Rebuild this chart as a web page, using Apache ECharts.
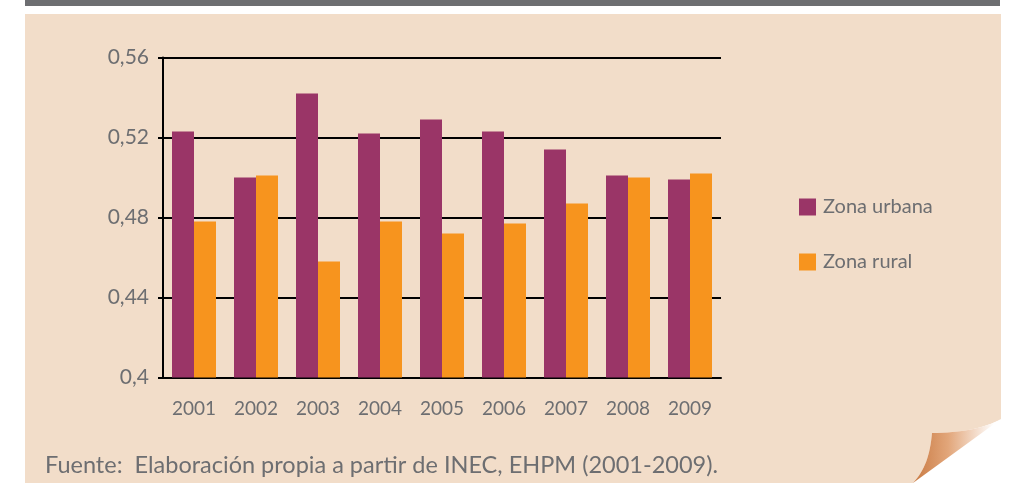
<!DOCTYPE html>
<html>
<head>
<meta charset="utf-8">
<script src="https://cdn.jsdelivr.net/npm/echarts@6/dist/echarts.min.js"></script>
<style>
  html, body { margin: 0; padding: 0; background: #ffffff; }
  #chart { width: 1013px; height: 483px; }
</style>
</head>
<body>
<div id="chart"></div>
<script>
  // datos
  var years = ['2001', '2002', '2003', '2004', '2005', '2006', '2007', '2008', '2009'];
  var urbana = [0.523, 0.500, 0.542, 0.522, 0.529, 0.523, 0.514, 0.501, 0.499];
  var rural = [0.478, 0.501, 0.458, 0.478, 0.472, 0.477, 0.487, 0.500, 0.502];
  var seriesNames = ['Zona urbana', 'Zona rural'];
  var fuente = 'Fuente:  Elaboración propia a partir de INEC, EHPM (2001-2009).';

  var gris = '#6d6e71';
  var fuenteTxt = 'Lato, "Open Sans", sans-serif';

  // puntos de una curva bezier cúbica (para la esquina doblada)
  function bez(p0, p1, p2, p3) {
    var pts = [];
    for (var i = 0; i <= 16; i++) {
      var t = i / 16, u = 1 - t;
      pts.push([
        u * u * u * p0[0] + 3 * u * u * t * p1[0] + 3 * u * t * t * p2[0] + t * t * t * p3[0],
        u * u * u * p0[1] + 3 * u * u * t * p1[1] + 3 * u * t * t * p2[1] + t * t * t * p3[1]
      ]);
    }
    return pts;
  }
  var bordeSup = bez([932, 433], [960, 433], [985, 428], [1001, 419]);
  var bordeIzq = bez([913, 483], [925, 470], [930, 455], [932, 433]);

  var recorte = bordeSup.slice().reverse().concat(bordeIzq.slice().reverse()).concat([[1013, 483], [1013, 419]]);
  var doblez = bordeSup.concat([[913, 483]]).concat(bordeIzq.slice(1));

  var myChart = echarts.init(document.getElementById('chart'));

  var option = {
    animation: false,
    textStyle: { fontFamily: fuenteTxt },
    graphic: [
      // banda gris superior
      { type: 'rect', z: -10, shape: { x: 25, y: 0, width: 975, height: 6 }, style: { fill: '#6d6e71' } },
      // fondo beige
      { type: 'rect', z: -10, shape: { x: 25, y: 14, width: 976, height: 469 }, style: { fill: '#f2ddc9' } },
      // esquina doblada
      { type: 'polygon', z: -9, shape: { points: recorte }, style: { fill: '#ffffff' } },
      { type: 'polygon', z: -8, shape: { points: doblez },
        style: { fill: new echarts.graphic.LinearGradient(0, 0, 1, 0, [
          { offset: 0, color: '#c97a43' },
          { offset: 0.4, color: '#e2a67a' },
          { offset: 0.92, color: '#ffffff' }
        ]) } },
      {
        type: 'text', z: 10, left: 45, top: 453,
        style: { text: fuente, fill: gris, fontSize: 23.5, fontFamily: fuenteTxt }
      }
    ],
    legend: {
      orient: 'vertical',
      left: 799,
      top: 197,
      padding: 0,
      icon: 'rect',
      itemWidth: 17,
      itemHeight: 17,
      itemGap: 35,
      itemStyle: { borderWidth: 0 },
      textStyle: { color: gris, fontSize: 20, fontFamily: fuenteTxt, padding: [0, 0, 0, 2] },
      data: seriesNames
    },
    grid: {
      left: 163,
      right: 292,
      top: 57.5,
      bottom: 105.5
    },
    xAxis: {
      type: 'category',
      data: years,
      axisLine: { lineStyle: { color: '#000', width: 2 } },
      axisTick: { length: 8, lineStyle: { color: '#000', width: 2 } },
      axisLabel: { color: gris, fontSize: 19, margin: 22, interval: 0, fontFamily: fuenteTxt }
    },
    yAxis: {
      type: 'value',
      min: 0.4,
      max: 0.56,
      interval: 0.04,
      axisLine: { show: true, lineStyle: { color: '#000', width: 2 } },
      axisTick: { show: true, length: 5, lineStyle: { color: '#000', width: 2 } },
      axisLabel: {
        color: gris, fontSize: 21, margin: 14, fontFamily: fuenteTxt,
        formatter: function (v) { return String(+v.toFixed(2)).replace('.', ','); }
      },
      splitLine: { show: true, lineStyle: { color: '#000', width: 2 } }
    },
    series: [
      { name: seriesNames[0], type: 'bar', data: urbana, barWidth: 22, barGap: '0%', itemStyle: { color: '#9a3567' } },
      { name: seriesNames[1], type: 'bar', data: rural, barWidth: 22, barGap: '0%', itemStyle: { color: '#f7941e' } }
    ]
  };

  myChart.setOption(option);
</script>
</body>
</html>
